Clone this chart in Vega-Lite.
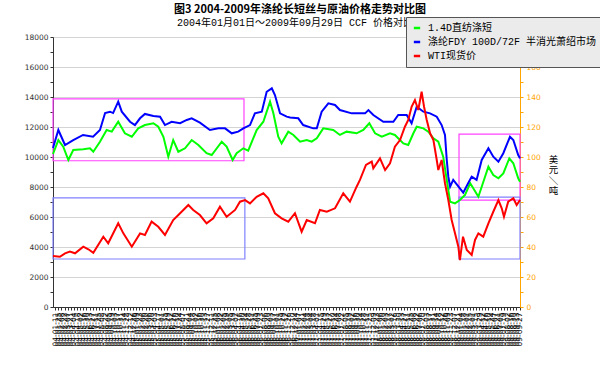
{
  "$schema": "https://vega.github.io/schema/vega-lite/v6.json",
  "width": 467,
  "height": 270,
  "autosize": {"type": "none"},
  "padding": {"left": 53, "top": 37, "right": 80, "bottom": 62},
  "background": "white",
  "title": {
    "text": "图3 2004-2009年涤纶长短丝与原油价格走势对比图",
    "subtitle": "2004年01月01日～2009年09月29日 CCF 价格对比图",
    "anchor": "middle",
    "dx": 13.5,
    "dy": 23,
    "offset": 12,
    "font": "Noto Sans CJK SC",
    "fontSize": 11,
    "fontWeight": "bold",
    "color": "#000000",
    "subtitleFont": "Liberation Mono, Noto Sans CJK SC",
    "subtitleFontSize": 10,
    "subtitleColor": "#000000",
    "subtitlePadding": 3,
    "zindex": 0
  },
  "datasets": {
    "boxes": [
      {"date": "2004-01-01", "date2": "2006-05-08", "v": 9750, "v2": 13870, "kind": "m"},
      {"date": "2004-01-01", "date2": "2006-05-12", "v": 3200, "v2": 7270, "kind": "p"},
      {"date": "2008-12-29", "date2": "2009-09-29", "v": 7130, "v2": 11530, "kind": "m"},
      {"date": "2008-12-29", "date2": "2009-09-29", "v": 3200, "v2": 7330, "kind": "p"}
    ],
    "green": [
      {"date": "2004-01-01", "v": 10200}, {"date": "2004-01-25", "v": 11130}, {"date": "2004-02-16", "v": 10690},
      {"date": "2004-03-10", "v": 9800}, {"date": "2004-04-01", "v": 10470}, {"date": "2004-05-16", "v": 10510},
      {"date": "2004-06-15", "v": 10580}, {"date": "2004-06-30", "v": 10350}, {"date": "2004-07-30", "v": 11020},
      {"date": "2004-08-29", "v": 11800}, {"date": "2004-09-21", "v": 11690}, {"date": "2004-10-20", "v": 12350},
      {"date": "2004-11-19", "v": 11580}, {"date": "2004-12-20", "v": 11350}, {"date": "2005-01-18", "v": 11910},
      {"date": "2005-02-17", "v": 12130}, {"date": "2005-03-27", "v": 12250}, {"date": "2005-04-18", "v": 12020},
      {"date": "2005-05-11", "v": 11350}, {"date": "2005-06-02", "v": 10020}, {"date": "2005-06-24", "v": 11130},
      {"date": "2005-07-17", "v": 10350}, {"date": "2005-08-16", "v": 10580}, {"date": "2005-09-15", "v": 11130},
      {"date": "2005-10-15", "v": 10800}, {"date": "2005-11-21", "v": 10250}, {"date": "2005-12-14", "v": 10130},
      {"date": "2006-01-28", "v": 11020}, {"date": "2006-02-19", "v": 10690}, {"date": "2006-03-18", "v": 9800},
      {"date": "2006-04-05", "v": 10250}, {"date": "2006-05-05", "v": 10580}, {"date": "2006-05-27", "v": 10420},
      {"date": "2006-07-04", "v": 11800}, {"date": "2006-08-03", "v": 12350}, {"date": "2006-09-02", "v": 13690},
      {"date": "2006-09-17", "v": 12910}, {"date": "2006-10-09", "v": 11350}, {"date": "2006-10-24", "v": 10910},
      {"date": "2006-11-23", "v": 11690}, {"date": "2006-12-16", "v": 11470}, {"date": "2007-01-15", "v": 11020},
      {"date": "2007-02-14", "v": 11130}, {"date": "2007-03-08", "v": 11020}, {"date": "2007-03-31", "v": 11250},
      {"date": "2007-04-29", "v": 11910}, {"date": "2007-06-13", "v": 11800}, {"date": "2007-07-13", "v": 11470},
      {"date": "2007-08-12", "v": 11690}, {"date": "2007-09-26", "v": 11580}, {"date": "2007-10-26", "v": 11800},
      {"date": "2007-11-22", "v": 12250}, {"date": "2007-12-18", "v": 11580}, {"date": "2008-01-17", "v": 11350},
      {"date": "2008-02-23", "v": 11580}, {"date": "2008-03-16", "v": 11470}, {"date": "2008-04-23", "v": 10910},
      {"date": "2008-05-15", "v": 10800}, {"date": "2008-06-07", "v": 11580}, {"date": "2008-06-22", "v": 12020},
      {"date": "2008-07-22", "v": 11910}, {"date": "2008-08-13", "v": 11690}, {"date": "2008-09-05", "v": 11250},
      {"date": "2008-09-27", "v": 11020}, {"date": "2008-10-19", "v": 10020}, {"date": "2008-11-04", "v": 8470},
      {"date": "2008-11-19", "v": 7020}, {"date": "2008-12-11", "v": 6910}, {"date": "2009-01-02", "v": 7130},
      {"date": "2009-01-25", "v": 7470}, {"date": "2009-02-17", "v": 8250}, {"date": "2009-03-03", "v": 7910},
      {"date": "2009-03-26", "v": 7350}, {"date": "2009-04-10", "v": 8020}, {"date": "2009-05-10", "v": 9350},
      {"date": "2009-06-01", "v": 8800}, {"date": "2009-06-24", "v": 8580}, {"date": "2009-07-16", "v": 8910},
      {"date": "2009-08-12", "v": 9910}, {"date": "2009-08-30", "v": 9580}, {"date": "2009-09-21", "v": 8580},
      {"date": "2009-09-29", "v": 8350}
    ],
    "blue": [
      {"date": "2004-01-01", "v": 10600}, {"date": "2004-01-25", "v": 11800}, {"date": "2004-02-24", "v": 10800},
      {"date": "2004-04-01", "v": 11130}, {"date": "2004-05-15", "v": 11470}, {"date": "2004-06-29", "v": 11350},
      {"date": "2004-07-30", "v": 11800}, {"date": "2004-08-22", "v": 12930}, {"date": "2004-09-13", "v": 13020},
      {"date": "2004-09-27", "v": 12930}, {"date": "2004-10-20", "v": 13690}, {"date": "2004-11-05", "v": 13020},
      {"date": "2004-12-12", "v": 12350}, {"date": "2005-01-03", "v": 12130}, {"date": "2005-01-26", "v": 12580},
      {"date": "2005-02-17", "v": 12870}, {"date": "2005-03-27", "v": 12730}, {"date": "2005-04-26", "v": 12690},
      {"date": "2005-05-18", "v": 12130}, {"date": "2005-06-17", "v": 12350}, {"date": "2005-07-25", "v": 12250},
      {"date": "2005-08-24", "v": 12470}, {"date": "2005-09-15", "v": 12580}, {"date": "2005-10-22", "v": 12290},
      {"date": "2005-12-06", "v": 11800}, {"date": "2006-01-13", "v": 11910}, {"date": "2006-02-12", "v": 11910},
      {"date": "2006-03-14", "v": 11580}, {"date": "2006-04-12", "v": 11690}, {"date": "2006-05-05", "v": 11910},
      {"date": "2006-06-04", "v": 12130}, {"date": "2006-06-26", "v": 12910}, {"date": "2006-07-27", "v": 13020},
      {"date": "2006-08-18", "v": 14350}, {"date": "2006-09-10", "v": 14580}, {"date": "2006-09-24", "v": 14130},
      {"date": "2006-10-17", "v": 12910}, {"date": "2006-11-16", "v": 12690}, {"date": "2006-12-01", "v": 12640},
      {"date": "2007-01-07", "v": 12580}, {"date": "2007-01-29", "v": 12130}, {"date": "2007-03-15", "v": 11910},
      {"date": "2007-03-31", "v": 11910}, {"date": "2007-04-22", "v": 13020}, {"date": "2007-05-22", "v": 13580},
      {"date": "2007-06-21", "v": 13470}, {"date": "2007-07-13", "v": 13130}, {"date": "2007-09-04", "v": 12910},
      {"date": "2007-11-03", "v": 12910}, {"date": "2007-11-18", "v": 13130}, {"date": "2007-12-10", "v": 12800},
      {"date": "2008-01-24", "v": 12350}, {"date": "2008-03-09", "v": 12350}, {"date": "2008-03-31", "v": 12800},
      {"date": "2008-05-08", "v": 12800}, {"date": "2008-05-30", "v": 12250}, {"date": "2008-06-22", "v": 13350},
      {"date": "2008-07-22", "v": 13020}, {"date": "2008-08-21", "v": 12910}, {"date": "2008-09-20", "v": 12690},
      {"date": "2008-10-12", "v": 12130}, {"date": "2008-10-27", "v": 11470}, {"date": "2008-11-04", "v": 9800},
      {"date": "2008-11-11", "v": 8690}, {"date": "2008-11-19", "v": 8020}, {"date": "2008-12-03", "v": 8470},
      {"date": "2009-01-02", "v": 7910}, {"date": "2009-01-17", "v": 7620}, {"date": "2009-02-08", "v": 8250},
      {"date": "2009-02-24", "v": 8690}, {"date": "2009-03-18", "v": 8470}, {"date": "2009-04-10", "v": 9800},
      {"date": "2009-05-10", "v": 10580}, {"date": "2009-06-01", "v": 10020}, {"date": "2009-06-24", "v": 9690},
      {"date": "2009-07-16", "v": 10250}, {"date": "2009-08-15", "v": 11350}, {"date": "2009-08-30", "v": 11130},
      {"date": "2009-09-21", "v": 10130}, {"date": "2009-09-29", "v": 9910}
    ],
    "red": [
      {"date": "2004-01-01", "v": 34}, {"date": "2004-02-01", "v": 33.5}, {"date": "2004-02-24", "v": 35.8},
      {"date": "2004-03-17", "v": 36.9}, {"date": "2004-04-09", "v": 35.8}, {"date": "2004-05-16", "v": 40.2},
      {"date": "2004-06-08", "v": 38.5}, {"date": "2004-06-30", "v": 36.2}, {"date": "2004-08-14", "v": 46.9},
      {"date": "2004-09-05", "v": 42.5}, {"date": "2004-10-20", "v": 55.8}, {"date": "2004-11-12", "v": 49.1},
      {"date": "2004-12-20", "v": 40.2}, {"date": "2005-01-26", "v": 49.1}, {"date": "2005-02-17", "v": 48},
      {"date": "2005-03-19", "v": 56.9}, {"date": "2005-04-18", "v": 53.5}, {"date": "2005-05-18", "v": 48},
      {"date": "2005-06-24", "v": 58}, {"date": "2005-07-25", "v": 62.5}, {"date": "2005-08-31", "v": 68},
      {"date": "2005-09-22", "v": 64.7}, {"date": "2005-10-22", "v": 61.3}, {"date": "2005-11-21", "v": 55.8},
      {"date": "2005-12-21", "v": 59.1}, {"date": "2006-01-20", "v": 66.9}, {"date": "2006-02-19", "v": 60.2},
      {"date": "2006-03-29", "v": 64.7}, {"date": "2006-04-20", "v": 70.2}, {"date": "2006-05-13", "v": 71.3},
      {"date": "2006-06-04", "v": 69.1}, {"date": "2006-07-04", "v": 73.5}, {"date": "2006-08-03", "v": 75.8},
      {"date": "2006-08-25", "v": 72.5}, {"date": "2006-09-24", "v": 62.5}, {"date": "2006-10-24", "v": 59.1},
      {"date": "2006-11-23", "v": 56.9}, {"date": "2006-12-23", "v": 62.5}, {"date": "2007-01-22", "v": 50.2},
      {"date": "2007-02-14", "v": 58}, {"date": "2007-03-23", "v": 55.8}, {"date": "2007-04-14", "v": 64.7},
      {"date": "2007-05-15", "v": 63.5}, {"date": "2007-06-21", "v": 65.8}, {"date": "2007-07-28", "v": 75.8},
      {"date": "2007-08-27", "v": 70.2}, {"date": "2007-09-26", "v": 80.2}, {"date": "2007-10-11", "v": 84.7},
      {"date": "2007-11-07", "v": 94.7}, {"date": "2007-12-03", "v": 96.9}, {"date": "2007-12-10", "v": 92.5},
      {"date": "2008-01-09", "v": 99.1}, {"date": "2008-02-01", "v": 91.3}, {"date": "2008-02-23", "v": 95.8},
      {"date": "2008-03-16", "v": 106.9}, {"date": "2008-04-08", "v": 111.3}, {"date": "2008-04-30", "v": 120.2},
      {"date": "2008-05-15", "v": 124.7}, {"date": "2008-05-30", "v": 133.5}, {"date": "2008-06-14", "v": 138},
      {"date": "2008-06-29", "v": 131.3}, {"date": "2008-07-14", "v": 143.5}, {"date": "2008-07-25", "v": 133.5},
      {"date": "2008-08-06", "v": 124.7}, {"date": "2008-08-21", "v": 115.8}, {"date": "2008-09-05", "v": 111.3},
      {"date": "2008-09-20", "v": 98}, {"date": "2008-09-27", "v": 91.3}, {"date": "2008-10-12", "v": 98},
      {"date": "2008-10-27", "v": 82.5}, {"date": "2008-11-11", "v": 71.3}, {"date": "2008-11-26", "v": 58},
      {"date": "2008-12-11", "v": 49.1}, {"date": "2008-12-26", "v": 40.2}, {"date": "2009-01-02", "v": 31.3},
      {"date": "2009-01-16", "v": 46.9}, {"date": "2009-02-02", "v": 38}, {"date": "2009-02-24", "v": 34.7},
      {"date": "2009-03-11", "v": 44.7}, {"date": "2009-03-26", "v": 49.1}, {"date": "2009-04-17", "v": 46.9},
      {"date": "2009-05-10", "v": 55.8}, {"date": "2009-06-01", "v": 63.5}, {"date": "2009-06-24", "v": 71.3},
      {"date": "2009-07-09", "v": 65.8}, {"date": "2009-07-19", "v": 60.2}, {"date": "2009-08-07", "v": 70.2},
      {"date": "2009-08-30", "v": 72.5}, {"date": "2009-09-14", "v": 68}, {"date": "2009-09-29", "v": 71.3}
    ]
  },
  "encoding": {
    "x": {
      "field": "date",
      "type": "temporal",
      "scale": {
        "type": "utc",
        "domain": [
          {"year": 2004, "month": 1, "date": 1, "utc": true},
          {"year": 2009, "month": 9, "date": 29, "utc": true}
        ],
        "nice": false
      },
      "axis": {
        "title": null,
        "grid": false,
        "tickCount": {"interval": "week", "step": 2},
        "format": "%y-%m-%d",
        "labelAngle": 270,
        "labelFont": "DejaVu Sans",
        "labelFontSize": 7.5,
        "labelColor": "#000000",
        "labelOverlap": false,
        "labelBound": false,
        "labelFlush": false,
        "labelPadding": 2,
        "tickSize": 3,
        "tickColor": "#333333",
        "domainColor": "#333333"
      }
    }
  },
  "layer": [
    {
      "encoding": {
        "y": {
          "field": "v",
          "type": "quantitative",
          "scale": {"domain": [0, 18000], "nice": false},
          "axis": {
            "orient": "left",
            "title": null,
            "values": [0, 1000, 2000, 3000, 4000, 5000, 6000, 7000, 8000, 9000, 10000, 11000, 12000, 13000, 14000, 15000, 16000, 17000, 18000],
            "format": "d",
            "labelExpr": "datum.value % 2000 == 0 ? datum.label : ''",
            "grid": true,
            "gridColor": "#d4d4d4",
            "gridOpacity": {"condition": {"test": "datum.value % 2000 != 0", "value": 0}, "value": 1},
            "tickSize": 3,
            "tickColor": "#333333",
            "domainColor": "#333333",
            "labelColor": "#333333",
            "labelFont": "DejaVu Sans",
            "labelFontSize": 7.5,
            "labelPadding": 2
          }
        }
      },
      "layer": [
        {
          "data": {"name": "boxes"},
          "mark": {"type": "rect", "filled": false, "strokeWidth": 1.2},
          "encoding": {
            "x2": {"field": "date2"},
            "y2": {"field": "v2"},
            "stroke": {
              "field": "kind",
              "type": "nominal",
              "scale": {"domain": ["m", "p"], "range": ["#ff44ff", "#8080ff"]},
              "legend": null
            }
          }
        },
        {
          "data": {"name": "green"},
          "mark": {"type": "line", "strokeWidth": 2},
          "encoding": {
            "color": {
              "datum": "1.4D直纺涤短",
              "type": "nominal",
              "scale": {
                "domain": ["1.4D直纺涤短", "涤纶FDY 100D/72F 半消光萧绍市场", "WTI现货价"],
                "range": ["#00ff00", "#0000ff", "#ff0000"]
              },
              "legend": {
                "orient": "none",
                "legendX": 353,
                "legendY": -20,
                "title": null,
                "fillColor": "#ebebeb",
                "strokeColor": "#555555",
                "padding": 6,
                "symbolType": "stroke",
                "symbolStrokeWidth": 2.5,
                "symbolSize": 40,
                "labelFont": "Liberation Mono, Noto Sans CJK SC",
                "labelFontSize": 10,
                "labelColor": "#000000",
                "labelLimit": 400,
                "rowPadding": 4,
                "labelOffset": 6,
                "zindex": 5
              }
            }
          }
        },
        {
          "data": {"name": "blue"},
          "mark": {"type": "line", "strokeWidth": 2},
          "encoding": {
            "color": {"datum": "涤纶FDY 100D/72F 半消光萧绍市场", "type": "nominal"}
          }
        }
      ]
    },
    {
      "data": {"name": "red"},
      "mark": {"type": "line", "strokeWidth": 2},
      "encoding": {
        "y": {
          "field": "v",
          "type": "quantitative",
          "scale": {"domain": [0, 180], "nice": false},
          "axis": {
            "orient": "right",
            "values": [0, 10, 20, 30, 40, 50, 60, 70, 80, 90, 100, 110, 120, 130, 140, 150, 160, 170, 180],
            "labelExpr": "datum.value % 20 == 0 && datum.value < 180 ? datum.label : ''",
            "grid": false,
            "tickSize": 3,
            "tickColor": "#ffa500",
            "domainColor": "#ffa500",
            "labelColor": "#ffa500",
            "labelFont": "DejaVu Sans",
            "labelFontSize": 7.5,
            "labelPadding": 3,
            "title": ["美", "元", "＼", "吨"],
            "titleAngle": 0,
            "titleAlign": "center",
            "titleBaseline": "top",
            "titleX": 33,
            "titleY": 117,
            "titleFont": "Noto Sans CJK SC",
            "titleFontSize": 9.5,
            "titleFontWeight": "normal",
            "titleColor": "#000000",
            "titleLineHeight": 10.5
          }
        },
        "color": {"datum": "WTI现货价", "type": "nominal"}
      }
    }
  ],
  "resolve": {"scale": {"y": "independent"}},
  "config": {
    "view": {"stroke": null}
  }
}
